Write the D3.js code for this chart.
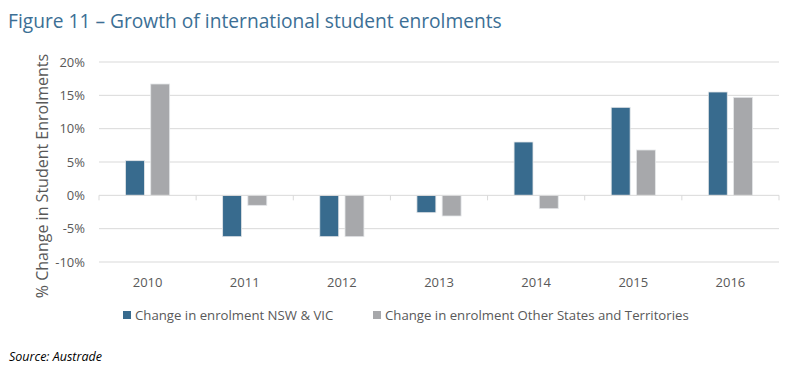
<!DOCTYPE html>
<html>
<head>
<meta charset="utf-8">
<script src="https://cdn.jsdelivr.net/npm/d3@7"></script>
<style>
  body { margin: 0; background: #fff; }
  text { font-family: "Open Sans", sans-serif; }
</style>
</head>
<body>
<svg id="chart"></svg>
<script>
let years = ['2010', '2011', '2012', '2013', '2014', '2015', '2016']
let nswVic = [5.2, -6.2, -6.2, -2.6, 8.0, 13.2, 15.5]
let otherStates = [16.7, -1.5, -6.2, -3.1, -2.0, 6.8, 14.7]
let seriesNames = ['Change in enrolment NSW & VIC', 'Change in enrolment Other States and Territories']
let yTicks = [-10, -5, 0, 5, 10, 15, 20]

let W = 793, H = 374
let svg = d3.select('#chart').attr('width', W).attr('height', H)

let colors = ['#386b8e', '#a7a8ab']
let margin = {left: 99, right: 14, top: 62, bottom: 112}

let x = d3.scaleBand().domain(years).range([margin.left, W - margin.right])
let x1 = d3.scaleBand().domain([0, 1]).range([0, x.bandwidth()]).paddingInner(0.25).paddingOuter(1.05)
let y = d3.scaleLinear().domain([-10, 20]).range([H - margin.bottom, margin.top])

//title
svg.append('text')
  .text('Figure 11 – Growth of international student enrolments')
  .attr('x', 8).attr('y', 28)
  .attr('fill', '#3c6f95')
  .attr('font-size', 19.2)

//grid
svg.append('g').selectAll('line')
  .data(yTicks.filter(d => d !== 0))
  .enter().append('line')
  .attr('x1', margin.left).attr('x2', W - margin.right)
  .attr('y1', d => y(d)).attr('y2', d => y(d))
  .attr('stroke', '#d9d9d9').attr('stroke-width', 1)

//y labels
svg.append('g').selectAll('text')
  .data(yTicks)
  .enter().append('text')
  .text(d => d + '%')
  .attr('x', 85).attr('y', d => y(d) + 4.5)
  .attr('text-anchor', 'end')
  .attr('font-size', 13)
  .attr('fill', '#595959')

svg.append('text')
  .text('% Change in Student Enrolments')
  .attr('transform', `translate(48,${(y(20) + y(-10)) / 2 + 14}) rotate(-90)`)
  .attr('text-anchor', 'middle')
  .attr('font-size', 16)
  .attr('fill', '#595959')

//bars
let groups = svg.append('g').selectAll('g')
  .data(years)
  .enter().append('g')
  .attr('transform', d => `translate(${x(d)},0)`)

groups.selectAll('rect')
  .data((d, i) => [nswVic[i], otherStates[i]])
  .enter().append('rect')
  .attr('x', (d, j) => x1(j))
  .attr('width', x1.bandwidth())
  .attr('y', d => y(Math.max(0, d)))
  .attr('height', d => Math.abs(y(d) - y(0)))
  .attr('fill', (d, j) => colors[j])
  .attr('stroke', '#e4e6e8').attr('stroke-width', 0.8)

//zero axis
let axisY = y(0)
svg.append('line')
  .attr('x1', margin.left).attr('x2', W - margin.right)
  .attr('y1', axisY).attr('y2', axisY)
  .attr('stroke', '#d9d9d9')
svg.append('g').selectAll('line')
  .data(years.map(d => x(d)).concat([W - margin.right]))
  .enter().append('line')
  .attr('x1', d => d).attr('x2', d => d)
  .attr('y1', axisY).attr('y2', axisY + 5)
  .attr('stroke', '#d9d9d9')

//x labels
svg.append('g').selectAll('text')
  .data(years)
  .enter().append('text')
  .text(d => d)
  .attr('x', d => x(d) + x.bandwidth() / 2)
  .attr('y', 287)
  .attr('text-anchor', 'middle')
  .attr('font-size', 13)
  .attr('fill', '#595959')

//legend
let legendX = [123, 373]
let legend = svg.append('g').selectAll('g')
  .data(seriesNames)
  .enter().append('g')
  .attr('transform', (d, i) => `translate(${legendX[i]},311)`)
legend.append('rect')
  .attr('width', 8).attr('height', 8)
  .attr('fill', (d, i) => colors[i])
legend.append('text')
  .text(d => d)
  .attr('x', 12).attr('y', 8.5)
  .attr('font-size', 13.2)
  .attr('fill', '#595959')

svg.append('text')
  .text('Source: Austrade')
  .attr('x', 9).attr('y', 361)
  .attr('font-size', 12.5)
  .attr('font-style', 'italic')
  .attr('fill', '#000')
</script>
</body>
</html>
